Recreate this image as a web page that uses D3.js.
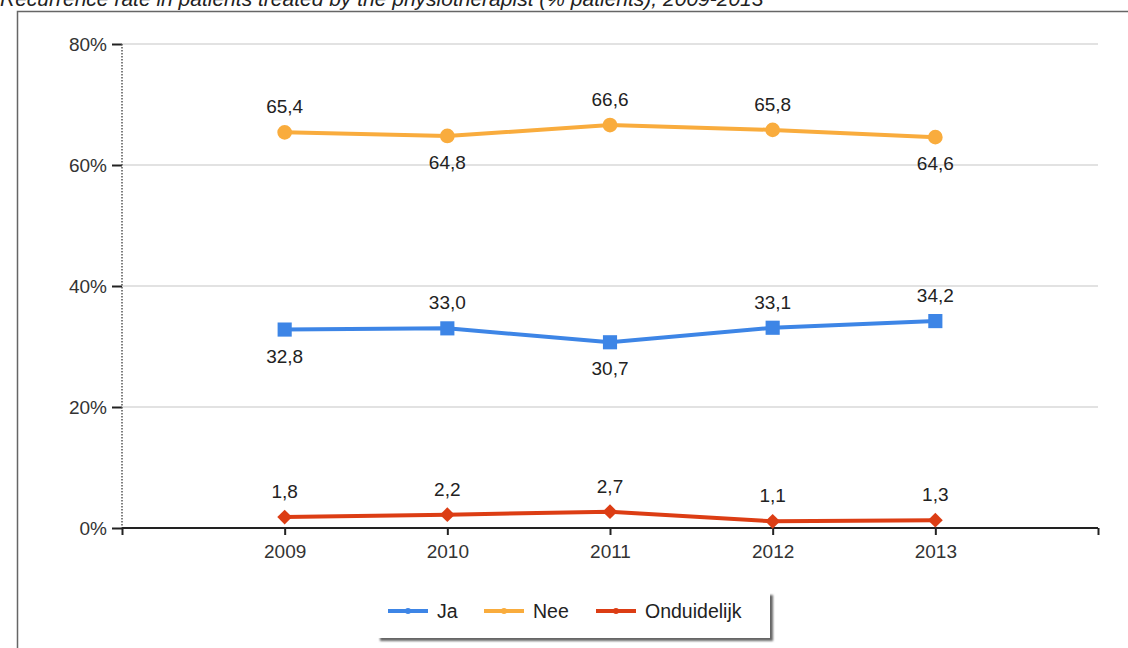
<!DOCTYPE html>
<html>
<head>
<meta charset="utf-8">
<script src="https://cdn.jsdelivr.net/npm/d3@7"></script>
<style>
  body { margin: 0; background: #fff; }
  svg { display: block; font-family: Arial, "Liberation Sans", sans-serif; }
</style>
</head>
<body>
<div id="chart"></div>
<script>
// data
var years = [2009, 2010, 2011, 2012, 2013];
var ja = [32.8, 33.0, 30.7, 33.1, 34.2];
var nee = [65.4, 64.8, 66.6, 65.8, 64.6];
var onduidelijk = [1.8, 2.2, 2.7, 1.1, 1.3];
var yTicks = [0, 20, 40, 60, 80];
var seriesNames = ["Ja", "Nee", "Onduidelijk"];
// label above (-1) or below (1) the point
var jaPos = [1, -1, 1, -1, -1];
var neePos = [-1, 1, -1, -1, 1];
var ondPos = [-1, -1, -1, -1, -1];

var colors = ["#3d85e6", "#f9ac3d", "#dc3d14"];
var shapes = [d3.symbolSquare, d3.symbolCircle, d3.symbolSquare];
var sizes = [200, 170, 110];
var rotate = [0, 0, 45]; // the diamond is a turned square

var series = [
  { name: seriesNames[0], values: ja, pos: jaPos },
  { name: seriesNames[1], values: nee, pos: neePos },
  { name: seriesNames[2], values: onduidelijk, pos: ondPos }
];

var W = 1128, H = 648;
var FONT = "Arial, 'Liberation Sans', sans-serif";
var svg = d3.select("#chart").append("svg")
    .attr("width", W)
    .attr("height", H);

var defs = svg.append("defs");
defs.append("filter").attr("id", "blur")
  .append("feGaussianBlur").attr("stdDeviation", 1.2);

// title, cut off at the top like the screenshot
svg.append("text")
    .attr("x", 0)
    .attr("y", 6)
    .style("font-size", "21px")
    .style("font-style", "italic")
    .attr("fill", "#222")
    .text("Recurrence rate in patients treated by the physiotherapist (% patients), 2009-2013");

// frame
svg.append("rect")
    .attr("x", 17.5).attr("y", 11.5)
    .attr("width", 1120).attr("height", 660)
    .attr("fill", "none")
    .attr("stroke", "#666")
    .attr("stroke-width", 1.5);

var x = d3.scaleLinear().domain([2008, 2014]).range([122, 1098]);
var y = d3.scaleLinear().domain([0, 80]).range([528, 44]);

// grid
svg.append("g").selectAll("line")
  .data(yTicks.filter(function(d){ return d > 0; }))
  .enter().append("line")
    .attr("x1", x(2008)).attr("x2", x(2014))
    .attr("y1", function(d){ return y(d); })
    .attr("y2", function(d){ return y(d); })
    .attr("stroke", "#e2e2e2")
    .attr("stroke-width", 2);

// y axis
var yAxis = svg.append("g")
    .attr("transform", "translate(" + x(2008) + ",0)")
    .call(d3.axisLeft(y).tickValues(yTicks).tickSize(10).tickPadding(5)
      .tickFormat(function(d){ return d + "%"; }));
yAxis.attr("font-family", FONT).attr("font-size", 19);
yAxis.select(".domain").remove();
yAxis.selectAll(".tick line").attr("stroke", "#222").attr("stroke-width", 2);
yAxis.selectAll("text").attr("fill", "#333");
svg.append("line")
    .attr("x1", x(2008)).attr("x2", x(2008))
    .attr("y1", y(80)).attr("y2", y(0))
    .attr("stroke", "#555")
    .attr("stroke-width", 1.5)
    .attr("stroke-dasharray", "1.5,1.5");

// x axis
var xAxis = svg.append("g")
    .attr("transform", "translate(0," + y(0) + ")")
    .call(d3.axisBottom(x).tickValues([2008].concat(years).concat([2014]))
      .tickSize(7).tickPadding(10)
      .tickFormat(function(d){ return (d === 2008 || d === 2014) ? "" : d; }));
xAxis.attr("font-family", FONT).attr("font-size", 19);
xAxis.select(".domain").attr("stroke", "#222").attr("stroke-width", 2)
    .attr("d", "M" + x(2008) + ",0H" + x(2014));
xAxis.selectAll(".tick line").attr("stroke", "#222").attr("stroke-width", 2);
xAxis.selectAll("text").attr("fill", "#333");

var line = d3.line()
    .x(function(d, i){ return x(years[i]); })
    .y(function(d){ return y(d); });

series.forEach(function(s, k){
  var g = svg.append("g");
  g.append("path")
      .datum(s.values)
      .attr("d", line)
      .attr("fill", "none")
      .attr("stroke", colors[k])
      .attr("stroke-width", 4);
  g.selectAll("path.pt")
    .data(s.values)
    .enter().append("path")
      .attr("class", "pt")
      .attr("transform", function(d, i){
        return "translate(" + x(years[i]) + "," + y(d) + ") rotate(" + rotate[k] + ")";
      })
      .attr("d", d3.symbol().type(shapes[k]).size(sizes[k]))
      .attr("fill", colors[k]);
  g.selectAll("text")
    .data(s.values)
    .enter().append("text")
      .attr("x", function(d, i){ return x(years[i]); })
      .attr("y", function(d, i){ return y(d) + (s.pos[i] < 0 ? -19 : 33); })
      .attr("text-anchor", "middle")
      .style("font-size", "19px")
      .attr("fill", "#222")
      .text(function(d){ return d.toFixed(1).replace(".", ","); });
});

// legend
var lg = svg.append("g").attr("transform", "translate(377,592)");
lg.append("rect")
    .attr("x", 3).attr("y", 3)
    .attr("width", 393).attr("height", 46)
    .attr("fill", "#666")
    .attr("filter", "url(#blur)");
lg.append("rect")
    .attr("x", 0).attr("y", 0)
    .attr("width", 393).attr("height", 46)
    .attr("fill", "#fff");
var legX = [11, 107, 219];
seriesNames.forEach(function(n, k){
  var it = lg.append("g").attr("transform", "translate(" + legX[k] + ",19)");
  it.append("line")
      .attr("x1", 0).attr("x2", 40)
      .attr("stroke", colors[k])
      .attr("stroke-width", 4);
  it.append("circle").attr("cx", 20).attr("r", 3).attr("fill", colors[k]);
  it.append("text")
      .attr("x", 49).attr("y", 7)
      .style("font-size", "19.5px")
      .attr("fill", "#222")
      .text(n);
});
</script>
</body>
</html>
